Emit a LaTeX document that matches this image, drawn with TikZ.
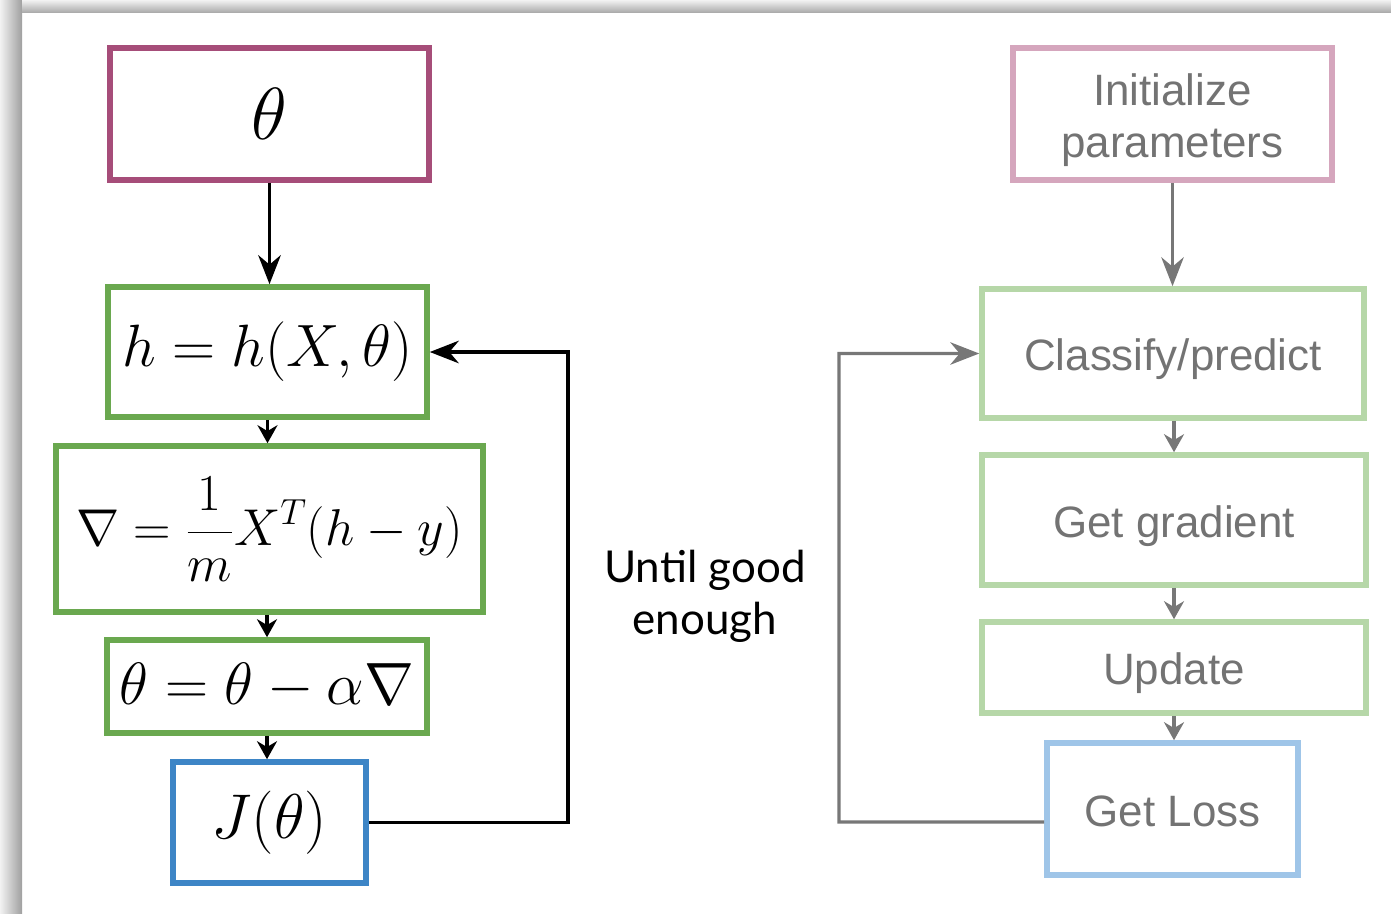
\RequirePackage{fix-cm}
\documentclass[tikz,border=0pt]{standalone}
\usepackage{fontspec}
\newfontfamily\latofont{Lato}
\newfontfamily\arialfont{Liberation Sans}
\usetikzlibrary{arrows.meta}
\pgfdeclarelayer{background}
\pgfsetlayers{background,main}

\definecolor{darkmagenta}{HTML}{A64D79}
\definecolor{darkgreen}{HTML}{6AA84F}
\definecolor{darkblue}{HTML}{3D85C6}
\definecolor{lightmagenta}{HTML}{D5A6BD}
\definecolor{lightgreen}{HTML}{B6D7A8}
\definecolor{lightblue}{HTML}{9FC5E8}
\definecolor{textgrey}{HTML}{737373}
\definecolor{linegrey}{HTML}{777777}

\newcommand{\steptext}[1]{\raisebox{0pt}[\dimexpr\height+0.28cm\relax]{\begin{tabular}{@{}c@{}}#1\end{tabular}}}

\tikzset{
	mathbox/.style={draw, line width=3.2pt, inner sep=0pt, font=\fontsize{34}{40}\selectfont},
	stepbox/.style={draw, line width=3.2pt, inner sep=0pt, text=textgrey,
		font=\arialfont\fontsize{25}{29.6}\selectfont},
	down/.style={-{Stealth[length=0.36cm,width=0.4cm]}, line width=2.2pt},
	back/.style={-{Stealth[length=0.58cm,width=0.45cm]}, line width=2.2pt}
}

\begin{document}
\begin{tikzpicture}[x=0.02cm,y=-0.02cm]
	\useasboundingbox (0,0) rectangle (1391,913);

\begin{pgfonlayer}{background}
	\shade[left color=gray!10, right color=gray!75] (0,0) rectangle (22,913);
	\shade[top color=gray!10, bottom color=gray!65] (22,0) rectangle (1391,12);
\end{pgfonlayer}

	% gradient descent in formulas
	\node[mathbox, draw=darkmagenta, minimum width=6.38cm, minimum height=2.64cm, font=\fontsize{42}{48}\selectfont] (theta) at (269.5,114) {$\theta$};
	\node[mathbox, draw=darkgreen, minimum width=6.38cm, minimum height=2.6cm] (hyp) at (267.5,352) {$h=h(X,\theta)$};
	\node[mathbox, draw=darkgreen, minimum width=8.54cm, minimum height=3.32cm, font=\fontsize{29.5}{36}\selectfont] (grad) at (269.5,529) {$\displaystyle\nabla=\frac{1}{m}X^T(h-y)$};
	\node[mathbox, draw=darkgreen, minimum width=6.4cm, minimum height=1.86cm] (upd) at (267,686.5) {$\theta=\theta-\alpha\nabla$};
	\node[mathbox, draw=darkblue, minimum width=3.86cm, minimum height=2.42cm, font=\fontsize{36}{42}\selectfont] (cost) at (269.5,822.5) {$J(\theta)$};
	\coordinate (lbend) at (568,822);

	\draw[back] (theta.south) -- (theta.south |- hyp.north);
	\draw[down] (hyp.south) -- (hyp.south |- grad.north);
	\draw[down] (upd.north |- grad.south) -- (upd.north);
	\draw[down] (upd.south) -- (upd.south |- cost.north);
	\draw[back] (cost.east) -- (cost.east -| lbend) |- (hyp.east);

	\node[font=\latofont\fontsize{25}{29.6}\selectfont, align=center] (until) at (705,596) {Until good\\enough};

	% the same steps in words
	\node[stepbox, draw=lightmagenta, minimum width=6.38cm, minimum height=2.64cm] (init) at (1172.5,114) {\steptext{Initialize\\parameters}};
	\node[stepbox, draw=lightgreen, minimum width=7.64cm, minimum height=2.58cm] (pred) at (1173,353.5) {\steptext{Classify/predict}};
	\node[stepbox, draw=lightgreen, minimum width=7.68cm, minimum height=2.6cm] (getgrad) at (1174,520) {\steptext{Get gradient}};
	\node[stepbox, draw=lightgreen, minimum width=7.68cm, minimum height=1.82cm] (update) at (1174,667.5) {\steptext{Update}};
	\node[stepbox, draw=lightblue, minimum width=5.02cm, minimum height=2.64cm] (loss) at (1172.5,809) {\steptext{Get Loss}};
	\coordinate (rbend) at (839,822);

	\draw[back, linegrey, line width=1.8pt] (init.south) -- (init.south |- pred.north);
	\draw[down, linegrey, line width=1.8pt] (getgrad.north |- pred.south) -- (getgrad.north);
	\draw[down, linegrey, line width=1.8pt] (getgrad.south) -- (getgrad.south |- update.north);
	\draw[down, linegrey, line width=1.8pt] (update.south) -- (update.south |- loss.north);
	\draw[back, linegrey, line width=1.8pt] ([yshift=-0.26cm]loss.west) -- (rbend) |- (pred.west);

\end{tikzpicture}
\end{document}
